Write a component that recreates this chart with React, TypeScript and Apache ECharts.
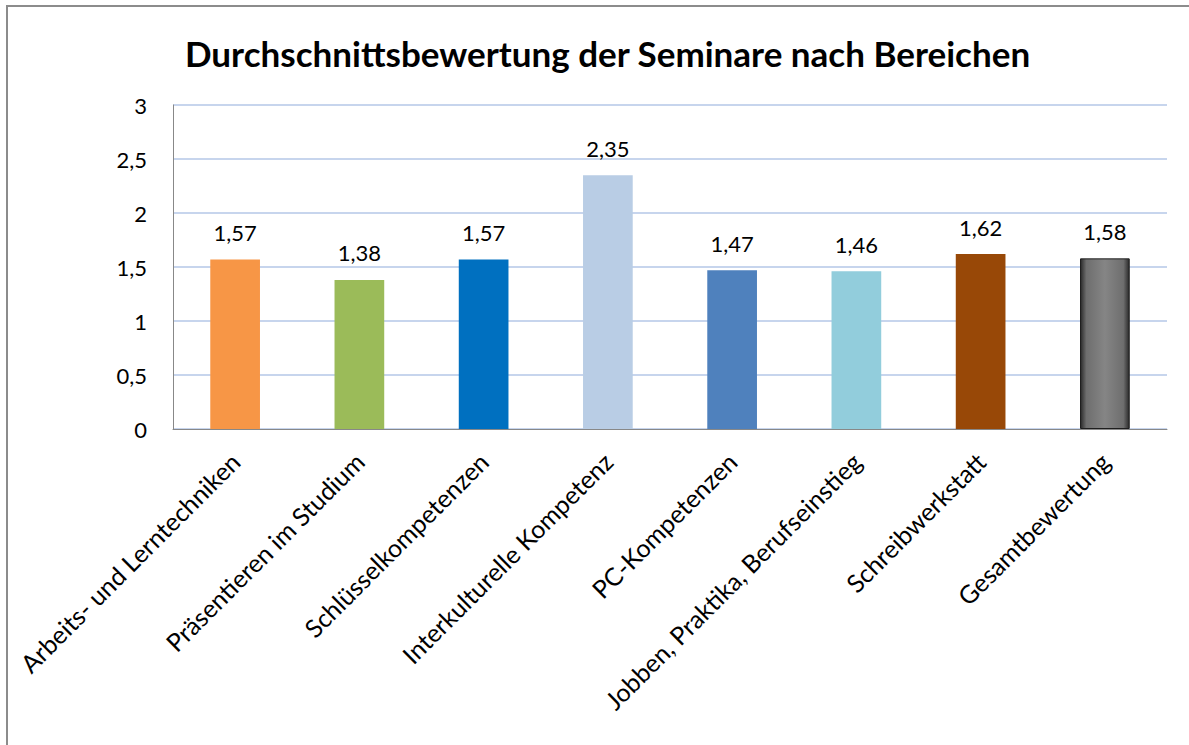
import React, { useEffect, useRef } from "react";
import * as echarts from "echarts";

const categories = [
  "Arbeits- und Lerntechniken",
  "Präsentieren im Studium",
  "Schlüsselkompetenzen",
  "Interkulturelle Kompetenz",
  "PC-Kompetenzen",
  "Jobben, Praktika, Berufseinstieg",
  "Schreibwerkstatt",
  "Gesamtbewertung",
];
const values = [1.57, 1.38, 1.57, 2.35, 1.47, 1.46, 1.62, 1.58];
const barColors = [
  "#F79646",
  "#9BBB59",
  "#0070C0",
  "#B9CDE5",
  "#4F81BD",
  "#92CDDC",
  "#984807",
  "gray",
];
const title = "Durchschnittsbewertung der Seminare nach Bereichen";

const FONT = "Lato, 'Open Sans', sans-serif";

export default function App() {
  const ref = useRef<HTMLDivElement>(null);
  useEffect(() => {
    if (!ref.current) return;
    const chart = echarts.init(ref.current, undefined, { renderer: "svg" });
    const grayFill = new echarts.graphic.LinearGradient(0, 0, 1, 0, [
      { offset: 0, color: "#2a2a2a" },
      { offset: 0.12, color: "#6e6e6e" },
      { offset: 0.5, color: "#858585" },
      { offset: 0.88, color: "#6e6e6e" },
      { offset: 1, color: "#2a2a2a" },
    ]);
    chart.setOption({
      animation: false,
      backgroundColor: "#ffffff",
      title: {
        text: title,
        left: 180,
        top: 30,
        textStyle: {
          fontFamily: FONT,
          fontWeight: "bold",
          fontSize: 35,
          color: "#000000",
        },
      },
      grid: { left: 173, right: 22, top: 105, bottom: 316 },
      xAxis: {
        type: "category",
        data: categories,
        axisLine: { show: true, lineStyle: { color: "#888888", width: 1 } },
        axisTick: { show: false },
        axisLabel: {
          interval: 0,
          rotate: 45,
          margin: 28,
          fontFamily: FONT,
          fontSize: 25,
          color: "#000000",
        },
      },
      yAxis: {
        type: "value",
        min: 0,
        max: 3,
        interval: 0.5,
        axisLine: { show: true, lineStyle: { color: "#888888", width: 1 } },
        axisTick: { show: false },
        splitLine: { lineStyle: { color: "#B4C7E7", width: 1.5 } },
        axisLabel: {
          margin: 26,
          fontFamily: FONT,
          fontSize: 22,
          color: "#000000",
          formatter: (v: number) => String(v).replace(".", ","),
        },
      },
      series: [
        {
          type: "bar",
          barWidth: "40%",
          data: values.map((v, i) => ({
            value: v,
            itemStyle:
              i === values.length - 1
                ? { color: grayFill, borderColor: "#1e1e1e", borderWidth: 1 }
                : { color: barColors[i] },
          })),
          label: {
            show: true,
            position: "top",
            distance: 16,
            fontFamily: FONT,
            fontSize: 22,
            color: "#000000",
            formatter: (p: any) => p.value.toFixed(2).replace(".", ","),
          },
        },
      ],
    });
    return () => chart.dispose();
  }, []);
  return (
    <div
      style={{
        position: "absolute",
        left: 0,
        top: 0,
        width: 1189,
        height: 745,
        overflow: "hidden",
        background: "#ffffff",
      }}
    >
      <div ref={ref} style={{ position: "absolute", left: 0, top: 0, width: 1189, height: 745 }} />
      <div
        style={{
          position: "absolute",
          left: 6,
          top: 5,
          width: 1200,
          height: 800,
          border: "2px solid #8c8c8c",
          pointerEvents: "none",
        }}
      />
    </div>
  );
}
